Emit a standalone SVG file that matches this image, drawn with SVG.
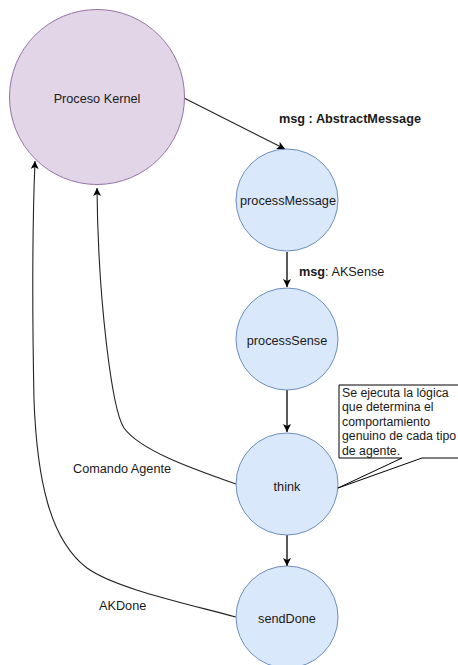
<svg xmlns="http://www.w3.org/2000/svg" width="458" height="665" viewBox="0 0 458 665">
<style>
text{font-family:"Liberation Sans",Arial,sans-serif;font-size:12.7px;fill:#1a1a1a}
.c{text-anchor:middle}
.b{font-weight:bold}
.n{font-size:12.3px}
.kern{fill:#e1d5e7;stroke:#9673a6;stroke-width:1}
.blue{fill:#dae8fc;stroke:#6c8ebf;stroke-width:1}
.e{fill:none;stroke:#222;stroke-width:1.1}
.ev{fill:none;stroke:#000;stroke-width:1.3}
</style>
<defs>
<marker id="ar" markerUnits="userSpaceOnUse" markerWidth="10" markerHeight="10" refX="8" refY="4" orient="auto">
<path d="M0,0 L8,4 L0,8 L2,4 Z" fill="#000"/>
</marker>
</defs>
<g id="connectors">
<path class="e" d="M184,98 L285,149" marker-end="url(#ar)"/>
<path class="ev" d="M287,252 V287" marker-end="url(#ar)"/>
<path class="ev" d="M287,390 V432" marker-end="url(#ar)"/>
<path class="ev" d="M287,535 V566" marker-end="url(#ar)"/>
<path class="e" d="M236,484 C190,468 140,450 124,428 C112,410 98,300 97,188" marker-end="url(#ar)"/>
<path class="e" d="M236,617 C180,602 115,588 87,568 C50,540 37,480 34,400 C32,300 33,210 35,161" marker-end="url(#ar)"/>
</g>
<g id="kernel">
<circle class="kern" cx="97" cy="97" r="87.5"/>
<text class="c" x="97" y="103">Proceso Kernel</text>
</g>
<g id="processMessage">
<circle class="blue" cx="287" cy="200" r="51"/>
<text class="c" x="288" y="205">processMessage</text>
</g>
<g id="processSense">
<circle class="blue" cx="287" cy="339" r="51"/>
<text class="c" x="287" y="345">processSense</text>
</g>
<g id="think">
<circle class="blue" cx="287" cy="484" r="51"/>
<text class="c" x="287" y="491">think</text>
</g>
<g id="sendDone">
<circle class="blue" cx="287" cy="617" r="51"/>
<text class="c" x="287" y="623">sendDone</text>
</g>
<g id="callout">
<path d="M339,385 H480 V458 H422 L338,488 L402,458 H339 Z" fill="#fff" stroke="#000" stroke-width="1"/>
<text class="n" x="342" y="397">Se ejecuta la lógica</text>
<text class="n" x="342" y="411">que determina el</text>
<text class="n" x="342" y="426">comportamiento</text>
<text class="n" x="342" y="440">genuino de cada tipo</text>
<text class="n" x="342" y="455">de agente.</text>
</g>
<g id="labels">
<text class="b" x="279" y="123">msg : AbstractMessage</text>
<text x="299" y="276"><tspan class="b">msg</tspan>: AKSense</text>
<text x="73" y="473">Comando Agente</text>
<text x="99" y="610">AKDone</text>
</g>
</svg>
